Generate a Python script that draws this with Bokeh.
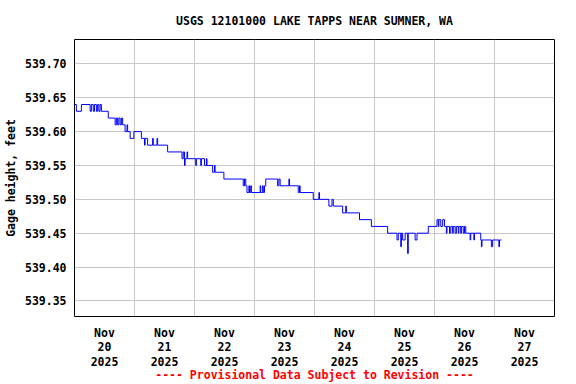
from bokeh.plotting import figure
from bokeh.models import FixedTicker, ColumnDataSource, Range1d
from bokeh.embed import file_html
from bokeh.resources import INLINE

title_text = "USGS 12101000 LAKE TAPPS NEAR SUMNER, WA"
y_title = "Gage height, feet"
footer_text = "---- Provisional Data Subject to Revision ----"

# hours since 2025-11-20 00:00 and gage height (feet), change points
hours = [0, 0.75, 2.75, 6.25, 6.75, 7.5, 8.0, 8.75, 9.25, 9.75, 10.25, 10.75,
         13.5, 16.25, 16.75, 17.25, 17.75, 18.25, 18.75, 19.25, 20.25, 21.0,
         21.25, 22.25, 23.75, 26.75, 28.0, 28.25, 29.25, 31.25, 31.5, 33.0,
         33.25, 37.25, 43.0, 43.5, 44.0, 44.25, 45.0, 45.25, 48.5, 48.75,
         50.5, 50.75, 52.0, 52.75, 53.0, 55.25, 56.0, 56.25, 59.75, 67.5,
         68.0, 68.5, 69.0, 69.75, 70.0, 70.5, 70.75, 74.25, 74.5, 75.25,
         75.5, 76.0, 76.5, 81.25, 81.75, 82.25, 85.75, 86.0, 89.5, 90.0,
         90.25, 95.5, 97.75, 98.0, 101.75, 103.0, 103.5, 107.25, 108.5,
         108.75, 114.0, 118.75, 125.25, 129.0, 129.5, 130.5, 130.75, 131.25,
         132.25, 133.25, 133.5, 136.25, 137.0, 141.5, 145.0, 145.5, 145.75,
         146.5, 147.25, 148.0, 148.75, 149.0, 150.0, 150.5, 151.25, 151.5,
         152.25, 152.75, 153.5, 153.75, 154.5, 154.75, 155.5, 156.0, 156.5,
         158.25, 158.5, 159.75, 160.0, 162.5, 162.75, 163.0, 166.75, 167.25,
         169.75, 170.0, 170.75]
gage = [539.64, 539.63, 539.64, 539.63, 539.64, 539.63, 539.64, 539.63, 539.64,
        539.63, 539.64, 539.63, 539.62, 539.61, 539.62, 539.61, 539.62, 539.61,
        539.62, 539.61, 539.60, 539.61, 539.60, 539.59, 539.60, 539.59, 539.58,
        539.59, 539.58, 539.59, 539.58, 539.59, 539.58, 539.57, 539.56, 539.57,
        539.55, 539.56, 539.57, 539.56, 539.55, 539.56, 539.55, 539.56, 539.55,
        539.56, 539.55, 539.54, 539.55, 539.54, 539.53, 539.52, 539.53, 539.52,
        539.51, 539.52, 539.51, 539.52, 539.51, 539.52, 539.51, 539.52, 539.51,
        539.52, 539.53, 539.52, 539.53, 539.52, 539.53, 539.52, 539.51, 539.52,
        539.51, 539.50, 539.51, 539.50, 539.49, 539.50, 539.49, 539.48, 539.49,
        539.48, 539.47, 539.46, 539.45, 539.44, 539.45, 539.43, 539.45, 539.44,
        539.45, 539.42, 539.45, 539.44, 539.45, 539.46, 539.47, 539.46, 539.47,
        539.46, 539.47, 539.46, 539.45, 539.46, 539.45, 539.46, 539.45, 539.46,
        539.45, 539.46, 539.45, 539.46, 539.45, 539.46, 539.45, 539.46, 539.45,
        539.44, 539.45, 539.44, 539.45, 539.44, 539.43, 539.44, 539.43, 539.44,
        539.43, 539.44, 539.44]

day_ticks = [12, 36, 60, 84, 108, 132, 156, 180]
day_labels = ["Nov\n20\n2025", "Nov\n21\n2025", "Nov\n22\n2025", "Nov\n23\n2025",
              "Nov\n24\n2025", "Nov\n25\n2025", "Nov\n26\n2025", "Nov\n27\n2025"]
grid_hours = [24, 48, 72, 96, 120, 144, 168]
y_ticks = [539.35, 539.40, 539.45, 539.50, 539.55, 539.60, 539.65, 539.70]
y_labels = ["539.35", "539.40", "539.45", "539.50", "539.55", "539.60", "539.65", "539.70"]

FONT = "DejaVu Sans Mono"
FS = "11.5px"

p = figure(width=576, height=384, output_backend="svg", toolbar_location=None,
           x_range=Range1d(0, 192), y_range=Range1d(539.327, 539.736),
           min_border_left=72, min_border_right=22, min_border_top=39,
           min_border_bottom=68)
p.background_fill_color = "white"
p.border_fill_color = "white"
p.outline_line_color = "black"
p.outline_line_width = 1
p.outline_line_alpha = 1

p.title.text = title_text
p.title.align = "center"
p.title.text_font = FONT
p.title.text_font_size = FS
p.title.text_font_style = "bold"
p.title.text_color = "black"
p.title.standoff = 23

src = ColumnDataSource(data=dict(hours=hours, gage=gage))
p.step(x="hours", y="gage", source=src, mode="after", line_color="#0000ff", line_width=1)

for ax in (p.xaxis[0], p.yaxis[0]):
    ax.axis_line_color = None
    ax.major_tick_line_color = None
    ax.minor_tick_line_color = None
    ax.major_tick_out = 0
    ax.major_tick_in = 0
    ax.minor_tick_out = 0
    ax.minor_tick_in = 0
    ax.major_label_text_font = FONT
    ax.major_label_text_font_size = FS
    ax.major_label_text_font_style = "bold"
    ax.major_label_text_color = "black"
    ax.axis_label_text_font = FONT
    ax.axis_label_text_font_size = FS
    ax.axis_label_text_font_style = "bold"

p.xaxis.ticker = FixedTicker(ticks=day_ticks)
p.xaxis.major_label_overrides = {t: l for t, l in zip(day_ticks, day_labels)}
p.xaxis.major_label_standoff = 9
p.xaxis.major_label_text_line_height = 1.05
p.xaxis.axis_label = footer_text
p.xaxis.axis_label_text_color = "#ff0000"
p.xaxis.axis_label_standoff = -4

p.yaxis.ticker = FixedTicker(ticks=y_ticks)
p.yaxis.major_label_overrides = {t: l for t, l in zip(y_ticks, y_labels)}
p.yaxis.major_label_standoff = 8
p.yaxis.axis_label = y_title
p.yaxis.axis_label_text_color = "black"
p.yaxis.axis_label_standoff = 4

p.xgrid.ticker = FixedTicker(ticks=grid_hours)
p.ygrid.ticker = FixedTicker(ticks=y_ticks)
p.xgrid.grid_line_color = "#c8c8c8"
p.ygrid.grid_line_color = "#c8c8c8"

open("out.html", "w").write(file_html(p, INLINE))
